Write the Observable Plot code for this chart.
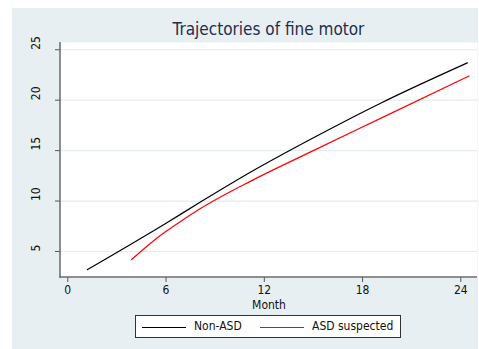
<!DOCTYPE html>
<html>
<head>
<meta charset="utf-8">
<script src="https://cdn.jsdelivr.net/npm/d3@7"></script>
<script src="https://cdn.jsdelivr.net/npm/@observablehq/plot@0.6"></script>
<style>
  html, body { margin: 0; padding: 0; background: #ffffff; }
  #wrap { position: relative; width: 479px; height: 349px; overflow: hidden;
          font-family: "DejaVu Sans Condensed", "DejaVu Sans", sans-serif; }
  #panel { position: absolute; left: 12px; top: 8px; width: 466px; height: 341px; background: #e8eff2; }
  #title { position: absolute; left: 60px; width: 417px; top: 19px; text-align: center;
           font-size: 17px; color: #1f2d4e; white-space: nowrap; }
  #chart { position: absolute; left: 0; top: 0; }
  #legend { position: absolute; left: 135px; top: 315px; width: 264px; height: 21px;
            background: #ffffff; border: 1px solid #333; box-sizing: content-box;
            font-size: 12px; color: #111; }
  .sw { position: absolute; top: 11px; width: 44px; height: 0; border-top: 1px solid; }
  .lab { position: absolute; top: 3px; white-space: nowrap; }
</style>
</head>
<body>
<div id="wrap">
  <div id="panel"></div>
  <div id="chart"></div>
  <div id="title"></div>
  <div id="legend"></div>
</div>
<script>
// Predicted fine-motor scores by age in months, per group
const nonAsdMonth  = [1.2, 5.9, 8.1, 11.2, 14.8, 19.1, 24.4];
const nonAsdScore  = [3.2, 7.7, 9.9, 12.9, 16.1, 19.7, 23.7];
const asdMonth     = [3.9, 5.0, 6.0, 7.0, 8.1, 11.2, 14.8, 19.1, 24.5];
const asdScore     = [4.2, 5.75, 7.0, 8.1, 9.25, 12.0, 14.85, 18.2, 22.4];

const xTicks = [0, 6, 12, 18, 24];
const yTicks = [5, 10, 15, 20, 25];

const titleText = "Trajectories of fine motor";
const xLabel = "Month";
const groups = ["Non-ASD", "ASD suspected"];
const groupColors = ["#000000", "#ff0000"];

const rows = [
  ...nonAsdMonth.map((m, i) => ({group: groups[0], month: m, score: nonAsdScore[i]})),
  ...asdMonth.map((m, i) => ({group: groups[1], month: m, score: asdScore[i]}))
];

const chart = Plot.plot({
  width: 479,
  height: 312,
  marginLeft: 60,
  marginRight: 2,
  marginTop: 42,
  marginBottom: 35,
  style: {background: "transparent", fontFamily: "DejaVu Sans Condensed, DejaVu Sans, sans-serif", fontSize: "12px", color: "#111"},
  x: {domain: [-0.446, 25.02]},
  y: {domain: [2.42, 25.72]},
  color: {domain: groups, range: groupColors},
  marks: [
    Plot.frame({fill: "#ffffff", stroke: null}),
    Plot.ruleY(yTicks, {stroke: "#e4eced", strokeWidth: 1.2}),
    Plot.line(rows, {x: "month", y: "score", z: "group", stroke: "group", strokeWidth: 1.2, curve: "monotone-x"}),
    Plot.axisX(xTicks, {tickSize: 5, tickPadding: 3, stroke: "#555", label: null, fontSize: 12}),
    Plot.text([xLabel], {frameAnchor: "bottom", dy: 28, lineAnchor: "middle", fontSize: 12, fill: "#111"}),
    Plot.axisY(yTicks, {tickSize: 5, stroke: "#555", label: null, text: null}),
    Plot.text(yTicks, {y: d => d, text: d => String(d), frameAnchor: "left", dx: -24, rotate: -90, fontSize: 12, fill: "#111"})
  ]
});
// axis lines on the left and bottom of the plot region
const svg = d3.select(chart);
svg.append("line").attr("x1", 60).attr("x2", 60).attr("y1", 42).attr("y2", 277.5)
  .attr("stroke", "#6a6a6a").attr("stroke-width", 1.5);
svg.append("line").attr("x1", 59.25).attr("x2", 477).attr("y1", 277).attr("y2", 277)
  .attr("stroke", "#6a6a6a").attr("stroke-width", 1.5);
document.getElementById("chart").appendChild(chart);

document.getElementById("title").textContent = titleText;

const legend = document.getElementById("legend");
const swX = [6, 124], labX = [58, 176];
groups.forEach((g, i) => {
  const sw = document.createElement("div");
  sw.className = "sw";
  sw.style.left = swX[i] + "px";
  sw.style.borderTopColor = groupColors[i];
  legend.appendChild(sw);
  const lb = document.createElement("div");
  lb.className = "lab";
  lb.style.left = labX[i] + "px";
  lb.textContent = g;
  legend.appendChild(lb);
});
</script>
</body>
</html>
